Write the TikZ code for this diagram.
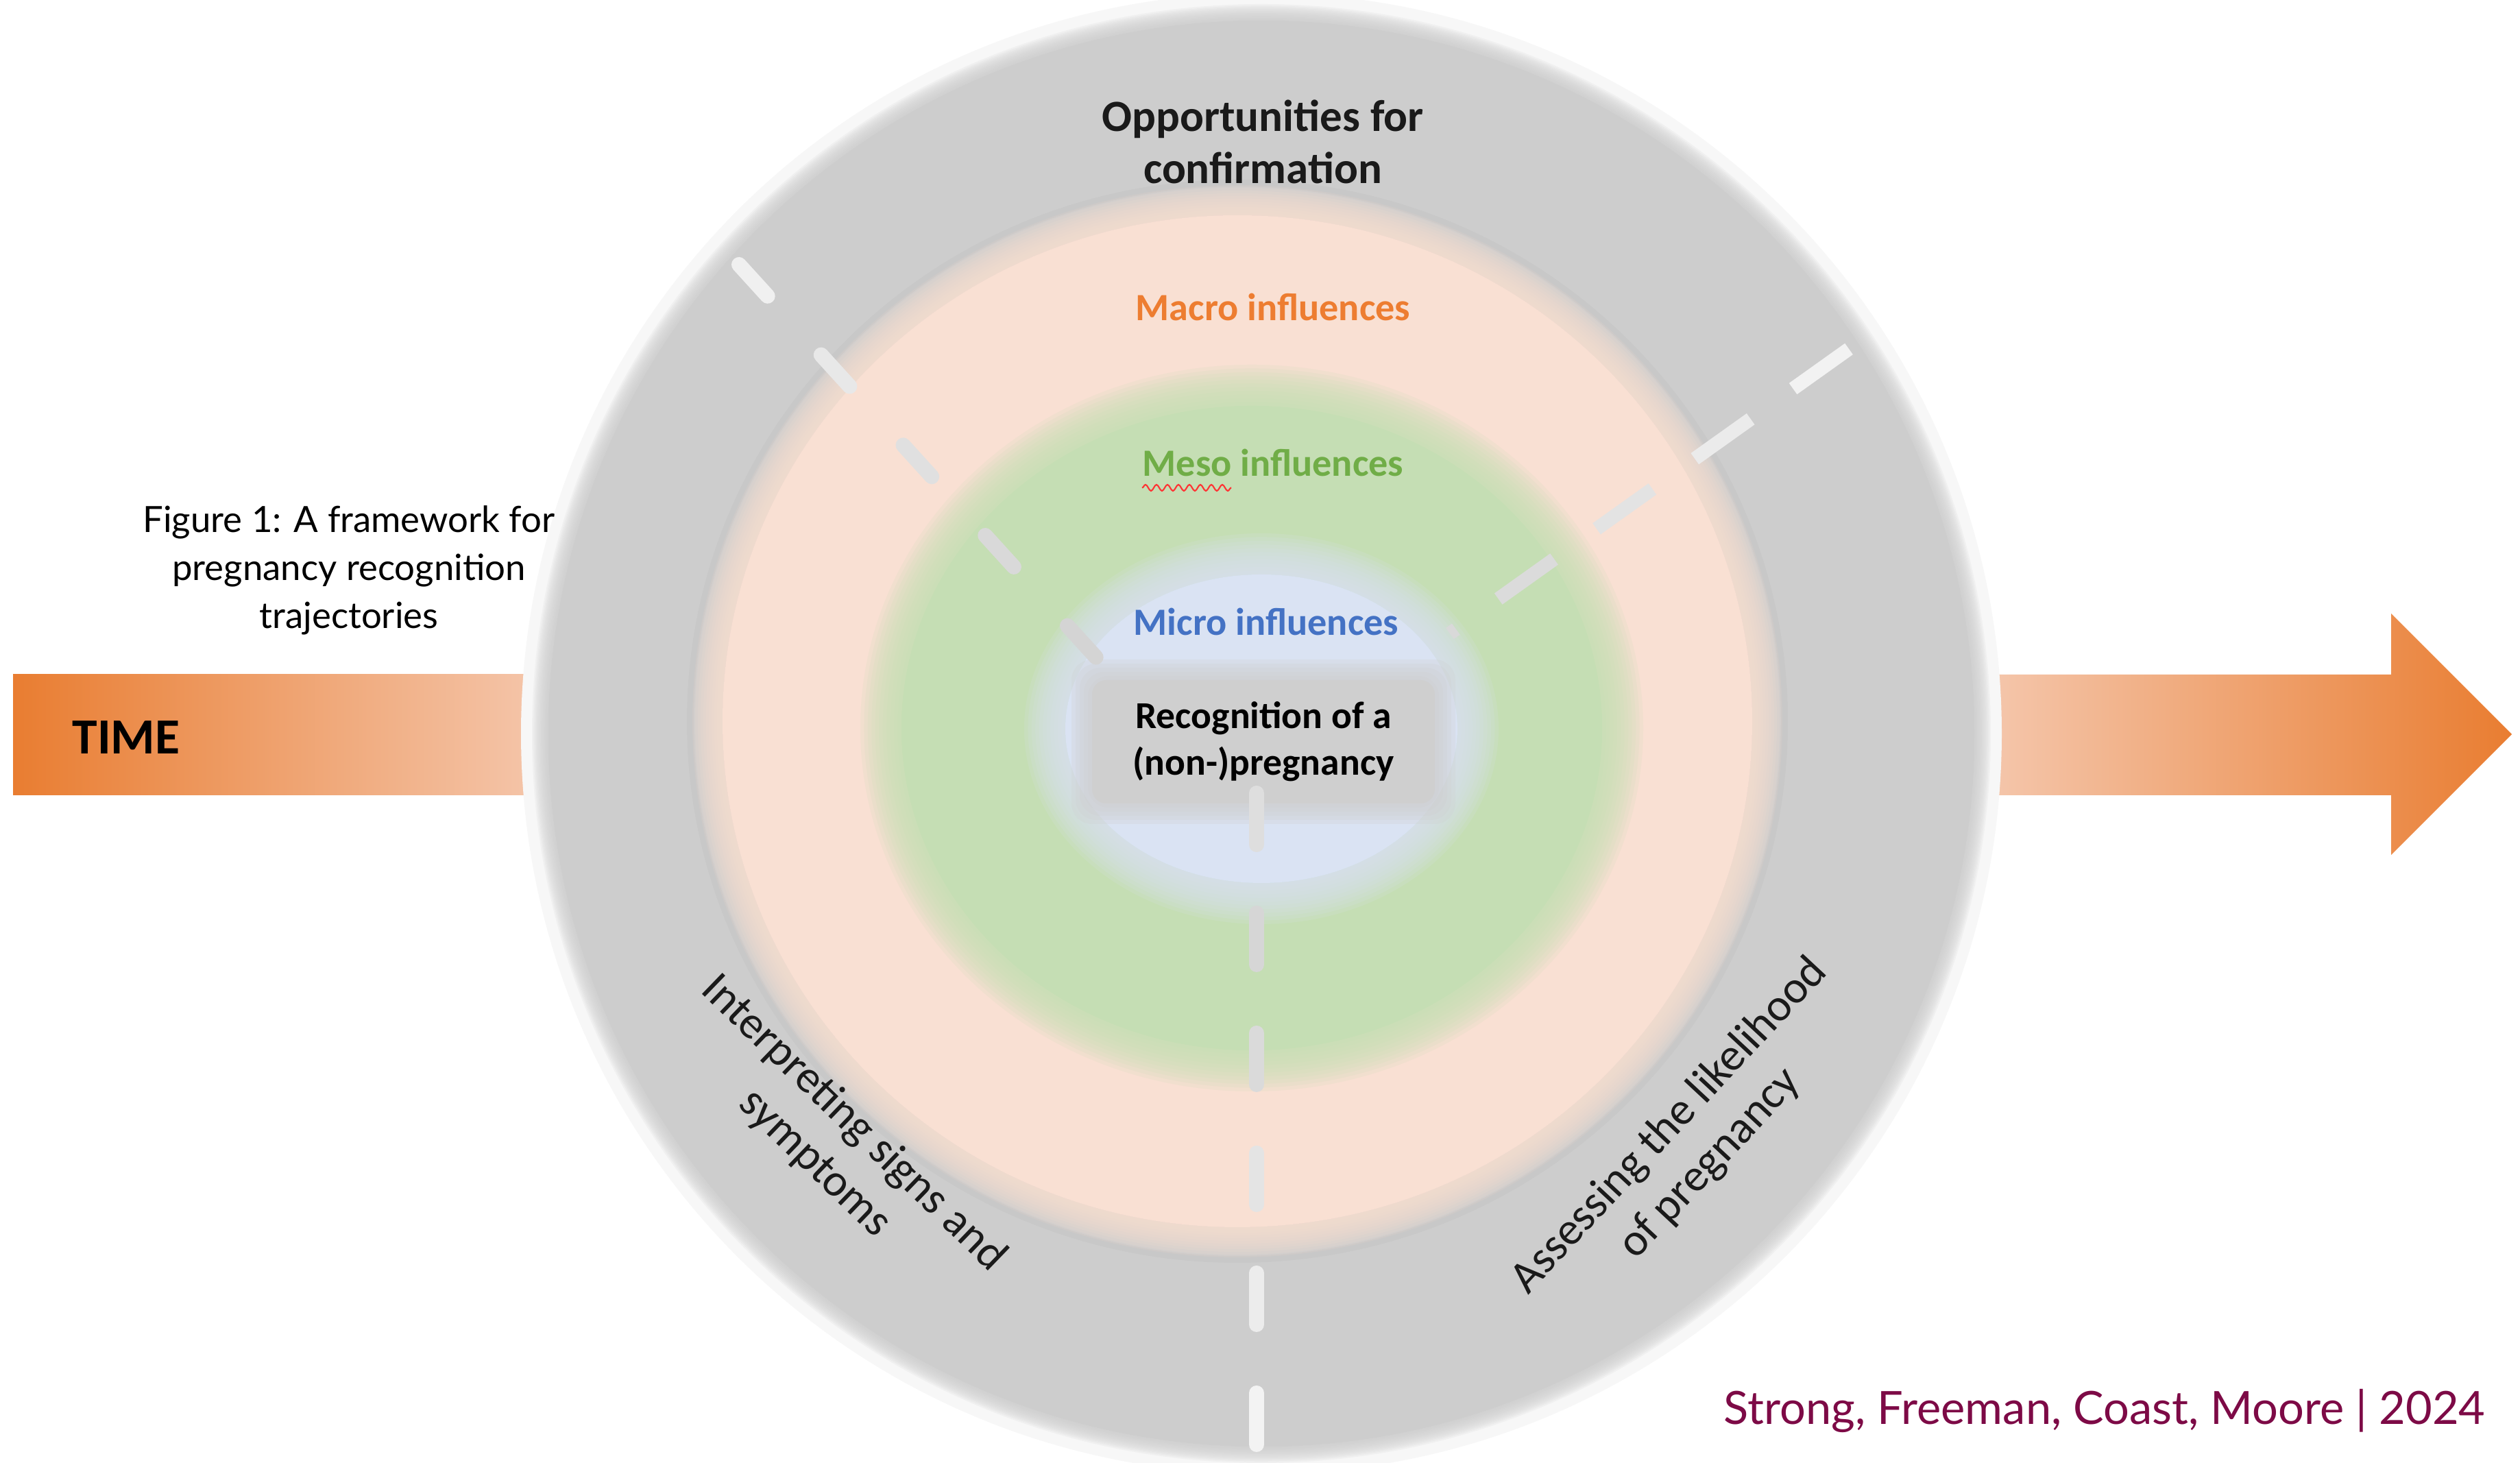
\documentclass[tikz,border=0pt]{standalone}
\usepackage{fontspec}
\setmainfont{Carlito}
\newfontfamily\creditfont{Lato}
\usetikzlibrary{calc,decorations.pathmorphing}

\definecolor{ringgray}{RGB}{205,205,205}
\definecolor{halogray}{RGB}{247,247,247}
\definecolor{macrofill}{RGB}{249,224,211}
\definecolor{mesofill}{RGB}{197,222,180}
\definecolor{microfill}{RGB}{218,227,243}
\definecolor{boxgray}{RGB}{207,207,207}
\definecolor{macrotext}{RGB}{237,125,49}
\definecolor{mesotext}{RGB}{112,173,71}
\definecolor{microtext}{RGB}{68,114,196}
\definecolor{inkblack}{RGB}{26,26,26}
\definecolor{timeorange}{RGB}{233,125,49}
\definecolor{timepale}{RGB}{246,208,188}
\definecolor{creditred}{RGB}{125,10,70}

\begin{document}
\begin{tikzpicture}[
    ringlabel/.style={
        font=\fontsize{18.5}{21.5}\selectfont\bfseries,
        text=inkblack,
        align=center,
        inner sep=0pt
    },
    layerlabel/.style={
        font=\fontsize{16}{19}\selectfont\bfseries,
        inner sep=0pt
    },
    arclabel/.style={
        font=\fontsize{19}{23}\selectfont,
        text=inkblack,
        align=center,
        inner sep=0pt
    },
    corebox/.style={
        rectangle,
        fill=boxgray,
        rounded corners=6pt,
        minimum width=5cm,
        minimum height=1.8cm,
        font=\fontsize{15.8}{19.3}\selectfont\bfseries,
        align=center
    },
    dashbit/.style={line width=0.22cm, line cap=round},
    slantbit/.style={line width=0.2cm, line cap=butt}
]

\useasboundingbox (0,0) rectangle (36.76,21.34);
\fill[white] (0,0) rectangle (36.76,21.34);

% Time arrow, left part and right part
\shade[left color=timeorange, right color=timepale] (0.19,9.74) rectangle (9.0,11.50);
\shade[left color=timepale, right color=timeorange]
    (28.0,9.74) -- (34.88,9.74) -- (34.88,8.87) -- (36.64,10.63)
    -- (34.88,12.39) -- (34.88,11.50) -- (28.0,11.50) -- cycle;

% Rings, soft edged
\fill[halogray] (18.40,10.64) circle (10.80);
\foreach \col/\x/\y/\rx/\ry/\w in {
    ringgray/18.40/10.64/10.52/10.52/0.12,
    macrofill/18.05/10.82/7.73/7.60/0.22,
    mesofill/18.26/10.72/5.41/5.00/0.30,
    microfill/18.40/10.71/3.16/2.55/0.30}
{
    \fill[\col] (\x,\y) ellipse [x radius={\rx-\w}, y radius={\ry-\w}];
    \foreach \k in {0,...,11}
        \fill[\col, opacity=0.15] (\x,\y)
            ellipse [x radius={\rx-\w+\k*\w/5.5}, y radius={\ry-\w+\k*\w/5.5}];
}
\draw[black, opacity=0.025, line width=0.1cm] (18.05,10.82) ellipse [x radius=7.98, y radius=7.85];

% Core
\coordinate (corec) at (18.43,10.52);
\foreach \k in {1,...,5}
    \fill[boxgray, opacity=0.25, rounded corners=0.3cm]
        ($(corec)+(-2.5-0.06*\k,-0.9-0.06*\k)$) rectangle ($(corec)+(2.5+0.06*\k,0.9+0.06*\k)$);
\node[corebox] (core) at (corec) {Recognition of a\\(non-)pregnancy};

% Dividers
\coordinate (lout) at (10.78,17.48);
\coordinate (lin) at (15.89,11.86);
\foreach \i/\p in {0/94,1/91,2/88,3/85,4/83}
    \draw[dashbit, white!\p!black] ($(lout)!\i*1.78cm!(lin)$) -- ($(lout)!\i*1.78cm+0.62cm!(lin)$);

\coordinate (rout) at (26.97,16.25);
\coordinate (rin) at (21.15,12.10);
\foreach \i/\e/\p in {0/1/95,1/1/92,2/1/89,3/1/86,4/0.11/85}
    \draw[slantbit, white!\p!black] ($(rout)!\i*1.76cm!(rin)$) -- ($(rout)!\i*1.76cm+\e cm!(rin)$);

\coordinate (bin) at (18.33,9.77);
\coordinate (bout) at (18.33,0.26);
\foreach \i/\p in {0/87,1/84,2/85.5,3/89.5,4/92.5,5/95.3}
    \draw[dashbit, white!\p!black] ($(bin)!\i*1.75cm!(bout)$) -- ($(bin)!\i*1.75cm+0.75cm!(bout)$);

% Labels
\node[ringlabel] (confirm) at (18.42,19.27) {Opportunities for\\confirmation};
\node[layerlabel, text=macrotext] (macro) at (18.57,16.86) {Macro influences};
\node[layerlabel, text=mesotext] (meso) at (18.57,14.59) {Meso influences};
\node[layerlabel, text=microtext] (micro) at (18.47,12.27) {Micro influences};
\draw[red!80, line width=0.6pt, decorate, decoration={snake, amplitude=0.45mm, segment length=1.6mm}]
    ([yshift=-0.17cm]meso.base west) -- ++(1.3,0);

\node[arclabel, rotate=-44] (interpret) at (12.17,4.66) {Interpreting signs and\\symptoms};
\node[arclabel, rotate=47] (assess) at (24.65,4.64) {Assessing the likelihood\\of pregnancy};

\node[font=\fontsize{21}{24}\selectfont\bfseries, anchor=west, inner sep=0pt] (time) at (1.05,10.58) {TIME};
\node[font=\creditfont\fontsize{15}{20}\selectfont, align=center] (caption) at (5.09,13.02)
    {Figure 1: A framework for\\pregnancy recognition\\trajectories};
\node[font=\creditfont\fontsize{19}{22}\selectfont, text=creditred, anchor=east, inner sep=0pt] (credit)
    at (36.26,0.76) {Strong, Freeman, Coast, Moore | 2024};

\end{tikzpicture}
\end{document}
